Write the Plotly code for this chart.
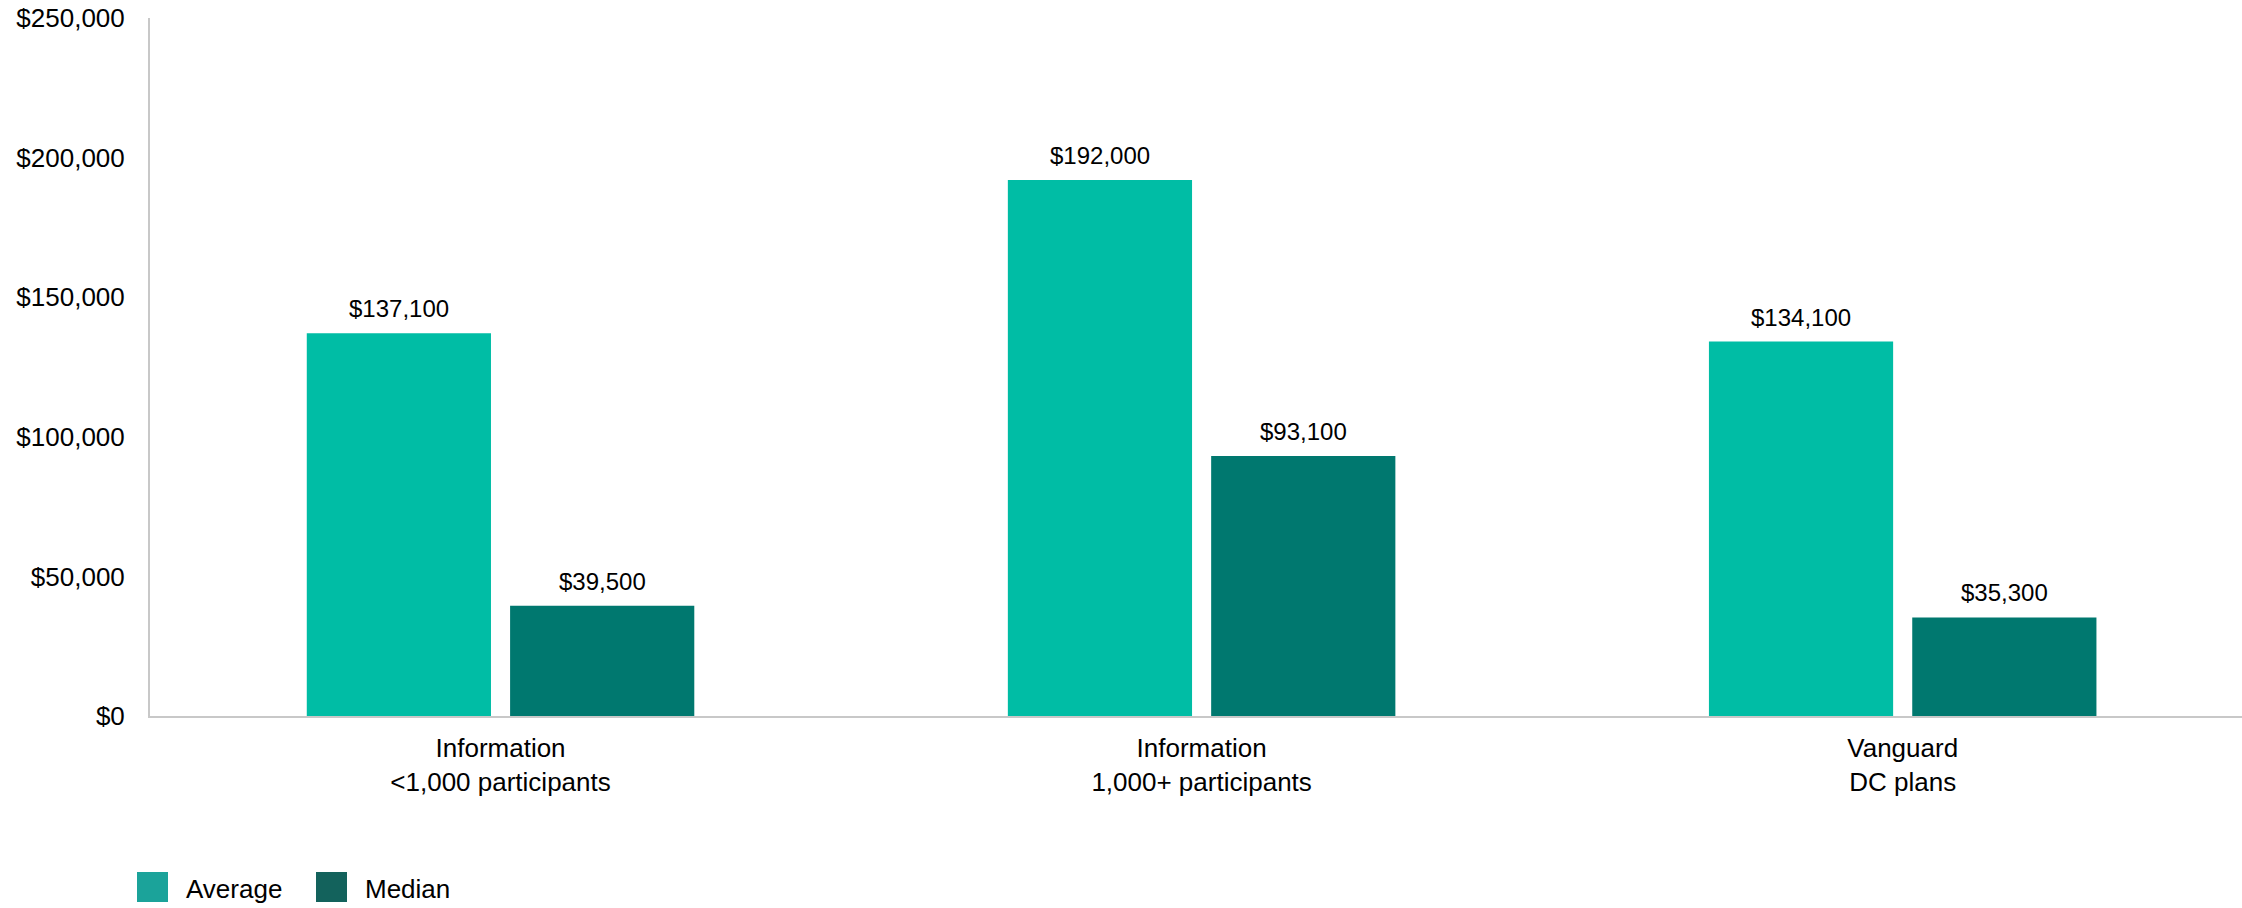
import plotly.graph_objects as go

# Account balances by plan group
categories = ["Information<br>&lt;1,000 participants",
              "Information<br>1,000+ participants",
              "Vanguard<br>DC plans"]
average = [137100, 192000, 134100]
median = [39500, 93100, 35300]
series_names = ["Average", "Median"]
tick_values = [0, 50000, 100000, 150000, 200000, 250000]
tick_labels = ["$0", "$50,000", "$100,000", "$150,000", "$200,000", "$250,000"]

W, H = 2242, 908
ML, MR, MT, MB = 150, 0, 18, 192
plot_w = W - ML - MR
plot_h = H - MT - MB

BAR_COLORS = ["#00BDA5", "#00786F"]
KEY_COLORS = ["#1BA39A", "#13625C"]
FONT = "Liberation Sans, Arial, sans-serif"
AXIS_GRAY = "#C8C8C8"

# category axis runs slightly past the right edge of the page
X_RANGE = [-0.5, 2.484]
BARGAP = 0.42
BARGROUPGAP = 0.094

fig = go.Figure()
for name, vals, col in zip(series_names, [average, median], BAR_COLORS):
    fig.add_trace(go.Bar(x=categories, y=vals, name=name,
                         marker=dict(color=col, line=dict(width=0)),
                         showlegend=False, hoverinfo="skip"))

# value labels above bars, shifted to each bar's slot within the group
cat_w = plot_w / (X_RANGE[1] - X_RANGE[0])
slot = cat_w * (1 - BARGAP) / 2
annotations = []
for i, vals in enumerate([average, median]):
    shift = (i - 0.5) * slot
    for c, v in zip(categories, vals):
        annotations.append(dict(x=c, y=v, xref="x", yref="y",
                                text=f"${v:,.0f}", showarrow=False,
                                xanchor="center", yanchor="bottom",
                                xshift=shift, yshift=9,
                                font=dict(family=FONT, size=24, color="#000000")))

# key: squares with names beneath the plot
def px_x(p):
    return (p - ML) / plot_w

def px_y(p):
    return (H - MB - p) / plot_h

shapes = []
key_left = [137, 316]
key_text_left = [184, 363]
for name, col, x0, tx in zip(series_names, KEY_COLORS, key_left, key_text_left):
    shapes.append(dict(type="rect", xref="paper", yref="paper",
                       x0=px_x(x0), x1=px_x(x0 + 31),
                       y0=px_y(872), y1=px_y(902),
                       fillcolor=col, line=dict(width=0)))
    annotations.append(dict(x=px_x(tx), y=px_y(889), xref="paper", yref="paper",
                            text=name, showarrow=False, xanchor="left",
                            yanchor="middle",
                            font=dict(family=FONT, size=26, color="#000000")))

fig.update_layout(
    width=W, height=H,
    margin=dict(l=ML, r=MR, t=MT, b=MB, pad=0),
    paper_bgcolor="white", plot_bgcolor="white",
    barmode="group", bargap=BARGAP, bargroupgap=BARGROUPGAP,
    font=dict(family=FONT, size=26, color="#000000"),
    showlegend=False,
    annotations=annotations,
    shapes=shapes,
    xaxis=dict(range=X_RANGE, showgrid=False, showline=True,
               linecolor=AXIS_GRAY, linewidth=2,
               ticks="outside", ticklen=8, tickcolor="rgba(0,0,0,0)",
               tickfont=dict(family=FONT, size=26, color="#000000"),
               zeroline=False),
    yaxis=dict(range=[0, 250000], tickmode="array",
               tickvals=tick_values, ticktext=tick_labels,
               showgrid=False, showline=True, linecolor=AXIS_GRAY, linewidth=2,
               ticks="outside", ticklen=18, tickcolor="rgba(0,0,0,0)",
               tickfont=dict(family=FONT, size=26, color="#000000"),
               zeroline=False),
)

fig.write_html("out.html")
